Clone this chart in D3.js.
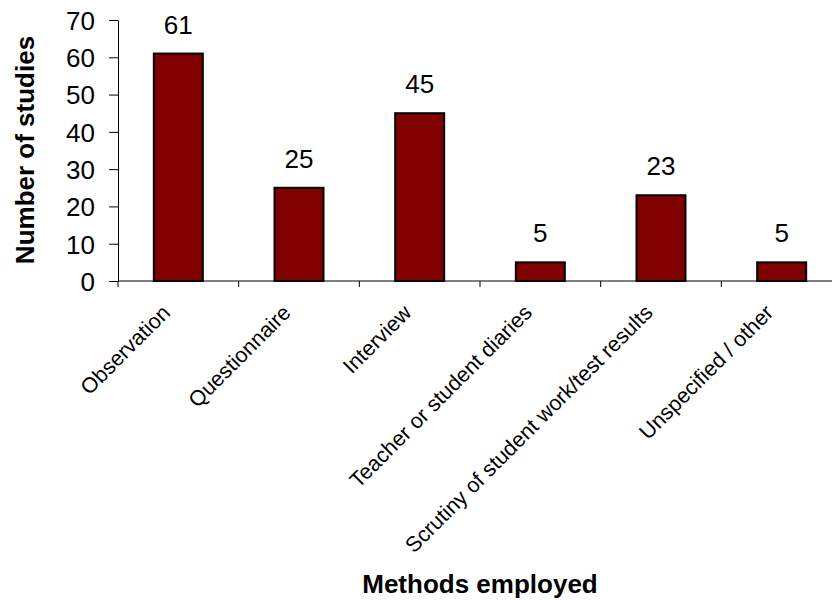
<!DOCTYPE html>
<html>
<head>
<meta charset="utf-8">
<script src="https://cdn.jsdelivr.net/npm/d3@7"></script>
<style>
  body { margin: 0; background: #fff; }
  svg text { font-family: "Liberation Sans", Arial, sans-serif; fill: #000; }
</style>
</head>
<body>
<svg id="chart" width="832" height="600"></svg>
<script>
// data
const methods = [
  "Observation",
  "Questionnaire",
  "Interview",
  "Teacher or student diaries",
  "Scrutiny of student work/test results",
  "Unspecified / other"
];
const studies = [61, 25, 45, 5, 23, 5];
const yTicks = [0, 10, 20, 30, 40, 50, 60, 70];

const svg = d3.select("#chart");

const x = d3.scaleBand()
  .domain(methods)
  .range([118, 842])
  .paddingInner(0.594)
  .paddingOuter(0.297);

const y = d3.scaleLinear()
  .domain([0, 70])
  .range([281, 20]);

// bars
svg.selectAll(".bar")
  .data(methods)
  .enter()
  .append("rect")
  .attr("class", "bar")
  .attr("x", d => x(d))
  .attr("y", (d, i) => y(studies[i]))
  .attr("width", x.bandwidth())
  .attr("height", (d, i) => y(0) - y(studies[i]))
  .attr("fill", "#800000")
  .attr("stroke", "#000")
  .attr("stroke-width", 2);

// value labels
svg.selectAll(".val")
  .data(methods)
  .enter()
  .append("text")
  .attr("class", "val")
  .attr("x", d => x(d) + x.bandwidth() / 2)
  .attr("y", (d, i) => y(studies[i]) - 20)
  .attr("text-anchor", "middle")
  .style("font-size", "26px")
  .text((d, i) => studies[i]);

// y axis
const yAxis = svg.append("g")
  .attr("transform", "translate(118,0)")
  .call(d3.axisLeft(y).tickValues(yTicks).tickSize(9).tickPadding(14).tickSizeOuter(0));
yAxis.selectAll("text").style("font-size", "26px").attr("dy", "0.36em");
yAxis.select(".domain").attr("stroke", "#000");
yAxis.selectAll("line").attr("stroke", "#000");

// x axis: ticks between categories
const xAxis = svg.append("g").attr("transform", "translate(0,281)");
xAxis.append("line")
  .attr("x1", 118).attr("x2", 842)
  .attr("stroke", "#000");
xAxis.selectAll(".xt")
  .data(d3.range(methods.length + 1))
  .enter()
  .append("line")
  .attr("x1", i => 118 + i * x.step())
  .attr("x2", i => 118 + i * x.step())
  .attr("y1", 0).attr("y2", 6)
  .attr("stroke", "#000");
xAxis.selectAll(".xl")
  .data(methods)
  .enter()
  .append("text")
  .attr("transform", d => `translate(${x(d) + x.bandwidth() / 2 - 7},33) rotate(-45)`)
  .attr("text-anchor", "end")
  .style("font-size", "21.5px")
  .text(d => d);

// axis titles
svg.append("text")
  .attr("x", 480)
  .attr("y", 593)
  .attr("text-anchor", "middle")
  .style("font-size", "26px")
  .style("font-weight", "bold")
  .text("Methods employed");

svg.append("text")
  .attr("transform", "translate(34,150) rotate(-90)")
  .attr("text-anchor", "middle")
  .style("font-size", "26px")
  .style("font-weight", "bold")
  .text("Number of studies");
</script>
</body>
</html>
